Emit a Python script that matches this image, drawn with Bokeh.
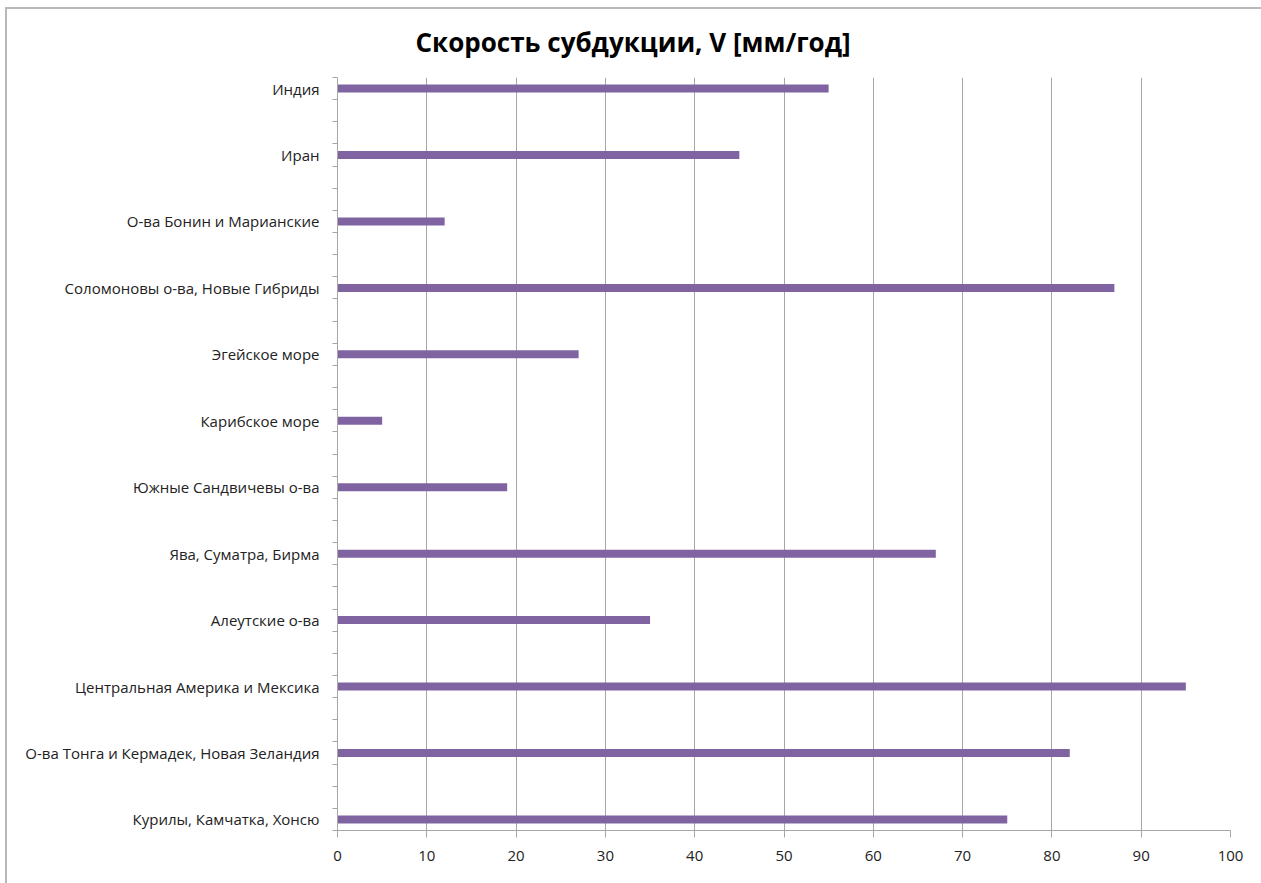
from bokeh.plotting import figure
from bokeh.models import Range1d, FixedTicker, Title
from bokeh.embed import file_html
from bokeh.resources import INLINE

# Subduction rate by region, top to bottom
regions = [
    "Индия",
    "Иран",
    "О-ва Бонин и Марианские",
    "Соломоновы о-ва, Новые Гибриды",
    "Эгейское море",
    "Карибское море",
    "Южные Сандвичевы о-ва",
    "Ява, Суматра, Бирма",
    "Алеутские о-ва",
    "Центральная Америка и Мексика",
    "О-ва Тонга и Кермадек, Новая Зеландия",
    "Курилы, Камчатка, Хонсю",
]
speeds = [55, 45, 12, 87, 27, 5, 19, 67, 35, 95, 82, 75]
x_ticks = [0, 10, 20, 30, 40, 50, 60, 70, 80, 90, 100]

TITLE = "Скорость субдукции, V [мм/год]"
FONT = "Open Sans"
BAR = "#8064A2"
GRID = "#a6a6a6"

# each region takes one slot, followed by two empty slots
n_slots = 3 * (len(regions) - 1) + 1
centers = [n_slots - 0.5 - 3 * i for i in range(len(regions))]

# the chart area runs past the right and bottom page edges
p = figure(
    width=1270, height=890,
    x_range=Range1d(0, 100), y_range=Range1d(0, n_slots),
    output_backend="svg", toolbar_location=None,
    min_border_left=337, min_border_right=40,
    min_border_top=77, min_border_bottom=60,
)
p.outline_line_color = None
p.background_fill_color = "white"
p.border_fill_color = "white"

p.hbar(y=centers, left=0, right=speeds, height=0.36,
       fill_color=BAR, line_color=None)

# x axis
p.xaxis.ticker = FixedTicker(ticks=x_ticks)
p.xaxis.axis_line_color = GRID
p.xaxis.major_tick_line_color = GRID
p.xaxis.major_tick_out = 7
p.xaxis.major_tick_in = 0
p.xaxis.minor_tick_line_color = None
p.xaxis.major_label_standoff = 13
p.xaxis.major_label_text_font = FONT
p.xaxis.major_label_text_font_size = "15px"
p.xaxis.major_label_text_color = "#222222"

# y axis: labels at region slots, ticks at slot boundaries
p.yaxis.ticker = FixedTicker(ticks=centers, minor_ticks=list(range(n_slots + 1)))
p.yaxis.major_label_overrides = {c: r for c, r in zip(centers, regions)}
p.yaxis.axis_line_color = GRID
p.yaxis.major_tick_line_color = None
p.yaxis.major_tick_out = 0
p.yaxis.major_tick_in = 0
p.yaxis.minor_tick_line_color = GRID
p.yaxis.minor_tick_out = 5
p.yaxis.minor_tick_in = 0
p.yaxis.major_label_standoff = 13
p.yaxis.major_label_text_font = FONT
p.yaxis.major_label_text_font_size = "15px"
p.yaxis.major_label_text_color = "#222222"

p.xgrid.ticker = FixedTicker(ticks=x_ticks[1:])
p.xgrid.grid_line_color = GRID
p.ygrid.grid_line_color = None

p.title = Title(text=TITLE, align="left", offset=78, standoff=35,
                text_font=FONT, text_font_style="bold",
                text_font_size="26px", text_color="black")

# page style: no scrollbars, and a thin frame along the chart's top and left edges
PAGE_CSS = (
    "<style>"
    "html,body{margin:0;overflow:hidden}"
    "body::after{content:'';position:fixed;left:5px;top:7px;right:-20px;bottom:-20px;"
    "border-left:2px solid #b8b8b8;border-top:2px solid #b8b8b8;"
    "pointer-events:none;z-index:10}"
    "</style>"
)

html = file_html(p, INLINE)
html = html.replace("<head>", "<head>" + PAGE_CSS, 1)
open("out.html", "w").write(html)
